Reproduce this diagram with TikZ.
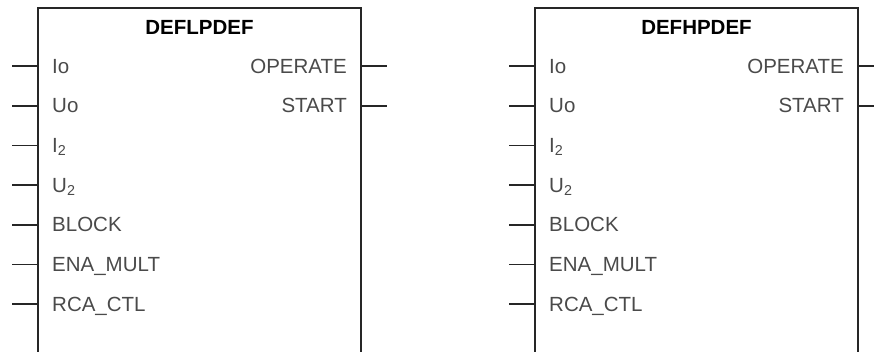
\documentclass[tikz,border=0pt]{standalone}
\usepackage{fontspec}
\setmainfont{Liberation Sans}
\usetikzlibrary{positioning,calc}

\definecolor{linegray}{HTML}{262626}
\definecolor{textgray}{HTML}{4A4A4A}

\tikzset{
  fblock/.style={draw=linegray, line width=1.8pt, anchor=north west, inner sep=0pt, outer sep=0pt,
    minimum width=323pt, minimum height=370pt},
  pinline/.style={draw=linegray, line width=1.8pt},
  pinlabel/.style={font=\fontsize{20.5}{24}\selectfont, text=textgray, inner sep=0pt},
  blocktitle/.style={font=\fontsize{20.5}{24}\selectfont\bfseries, inner sep=0pt, anchor=base}
}

\begin{document}
\begin{tikzpicture}[x=1pt,y=1pt]

\useasboundingbox (0,0) rectangle (874,-351);
\clip (0,0) rectangle (874,-351);

% Blocks
\node[fblock] (lp) at (38,-8) {};
\node[fblock] (hp) at (535,-8) {};

% Titles
\node[blocktitle] (lp-title) at ($(lp.north)+(0,-26)$) {DEFLPDEF};
\node[blocktitle] (hp-title) at ($(hp.north)+(0,-26)$) {DEFHPDEF};

% Inputs
\foreach \blk in {lp,hp} {
  \foreach \name/\txt [count=\i] in {Io/Io, Uo/Uo, I2/{I\textsubscript{2}}, U2/{U\textsubscript{2}},
      BLOCK/BLOCK, ENA/ENA\_MULT, RCA/RCA\_CTL} {
    \coordinate (\blk-\name) at ($(\blk.north west)+(0,{-58-39.7*(\i-1)})$);
    \coordinate (\blk-\name-end) at ($(\blk-\name)+(-26,0)$);
    \draw[pinline] (\blk-\name) -- (\blk-\name-end);
    \node[pinlabel, anchor=base west] (\blk-\name-label) at ($(\blk-\name)+(14,-7)$) {\txt};
  }
}

% Outputs
\foreach \blk in {lp,hp} {
  \foreach \name/\txt [count=\i] in {OPERATE/OPERATE, START/START} {
    \coordinate (\blk-\name) at ($(\blk.north east)+(0,{-58-39.7*(\i-1)})$);
    \coordinate (\blk-\name-end) at ($(\blk-\name)+(26,0)$);
    \draw[pinline] (\blk-\name) -- (\blk-\name-end);
    \node[pinlabel, anchor=base east] (\blk-\name-label) at ($(\blk-\name)+(-14,-7)$) {\txt};
  }
}

\end{tikzpicture}
\end{document}
